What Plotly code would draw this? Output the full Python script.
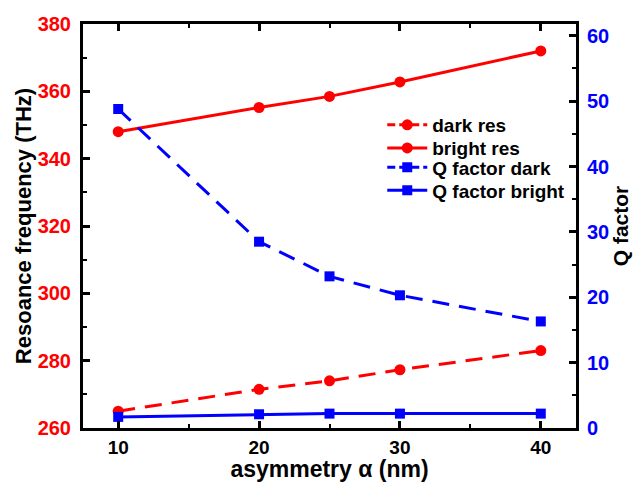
import plotly.graph_objects as go

asym = [10, 20, 25, 30, 40]
dark_res = [265.0, 271.5, 274.0, 277.3, 283.0]
bright_res = [348.0, 355.2, 358.5, 362.8, 372.0]
q_dark = [48.8, 28.5, 23.2, 20.3, 16.3]
q_bright = [1.7, 2.1, 2.2, 2.2, 2.2]
names = ["dark res", "bright res", "Q factor dark", "Q factor bright"]

RED = "#ff0000"
BLUE = "#0000ff"
FONT = "Liberation Sans, Arial, sans-serif"
DASH = "17px,10px"
LEG_DASH = "8px,4px"

def bf(size, color="black"):
    return dict(size=size, color=color, family=FONT, weight="bold")

series = [
    (dark_res, RED, "circle", 11, True, "y"),
    (bright_res, RED, "circle", 11, False, "y"),
    (q_dark, BLUE, "square", 10, True, "y2"),
    (q_bright, BLUE, "square", 10, False, "y2"),
]
legend_ids = ["legend", "legend2", "legend3", "legend4"]
legend_y = [0.75, 0.693, 0.645, 0.588]

fig = go.Figure()
for (vals, col, sym, sz, dashed, ax), nm in zip(series, names):
    fig.add_trace(go.Scatter(x=asym, y=vals, name=nm, mode="lines+markers", showlegend=False,
                             line=dict(color=col, width=3, dash=DASH if dashed else "solid"),
                             marker=dict(symbol=sym, size=sz, color=col), yaxis=ax))
# legend entries (same styling, legend-friendly dash pattern), one legend each for exact spacing
for (vals, col, sym, sz, dashed, ax), nm, lid in zip(series, names, legend_ids):
    fig.add_trace(go.Scatter(x=[None], y=[None], name=nm, mode="lines+markers", legend=lid,
                             line=dict(color=col, width=3, dash=LEG_DASH if dashed else "solid"),
                             marker=dict(symbol=sym, size=sz, color=col), yaxis=ax))

legend_common = dict(x=0.607, xanchor="left", yanchor="middle",
                     bgcolor="rgba(0,0,0,0)", font=bf(19), itemwidth=40)
layout_legends = {lid: dict(legend_common, y=ly) for lid, ly in zip(legend_ids, legend_y)}

fig.update_layout(
    width=633, height=482,
    margin=dict(l=83, r=57, t=24, b=54, autoexpand=False),
    paper_bgcolor="white", plot_bgcolor="white",
    font=dict(family=FONT, color="black"),
    showlegend=True,
    **layout_legends,
    xaxis=dict(range=[7.5, 42.5], tickvals=[10, 20, 30, 40], automargin=False,
               ticks="inside", ticklen=7, tickwidth=2.5, tickcolor="black",
               minor=dict(tickvals=[15, 25, 35], ticks="inside", ticklen=4, tickwidth=2, tickcolor="black"),
               showline=True, linewidth=3, linecolor="black", mirror="ticks",
               showgrid=False, zeroline=False,
               tickfont=bf(19),
               title=dict(text="asymmetry α (nm)", font=bf(23), standoff=3)),
    yaxis=dict(range=[260, 380], tickvals=[260, 280, 300, 320, 340, 360, 380], automargin=False,
               ticks="inside", ticklen=7, tickwidth=2.5, tickcolor="black",
               minor=dict(tickvals=[270, 290, 310, 330, 350, 370], ticks="inside", ticklen=4, tickwidth=2, tickcolor="black"),
               showline=True, linewidth=3, linecolor="black", mirror=True,
               showgrid=False, zeroline=False, ticklabelstandoff=5,
               tickfont=bf(20, RED),
               title=dict(text="Resoance frequency (THz)", font=bf(22), standoff=0)),
    yaxis2=dict(range=[0, 61.8], tickvals=[0, 10, 20, 30, 40, 50, 60], overlaying="y", side="right",
                automargin=False,
                ticks="inside", ticklen=7, tickwidth=2.5, tickcolor="black",
                minor=dict(tickvals=[5, 15, 25, 35, 45, 55], ticks="inside", ticklen=4, tickwidth=2, tickcolor="black"),
                showline=True, linewidth=3, linecolor="black", ticklabelstandoff=4,
                showgrid=False, zeroline=False,
                tickfont=bf(20, BLUE),
                title=dict(text="Q factor", font=bf(21), standoff=2)),
)

fig.write_html("out.html", config={"displayModeBar": False},
               post_script="document.body.style.margin='0';document.body.style.padding='0';")
